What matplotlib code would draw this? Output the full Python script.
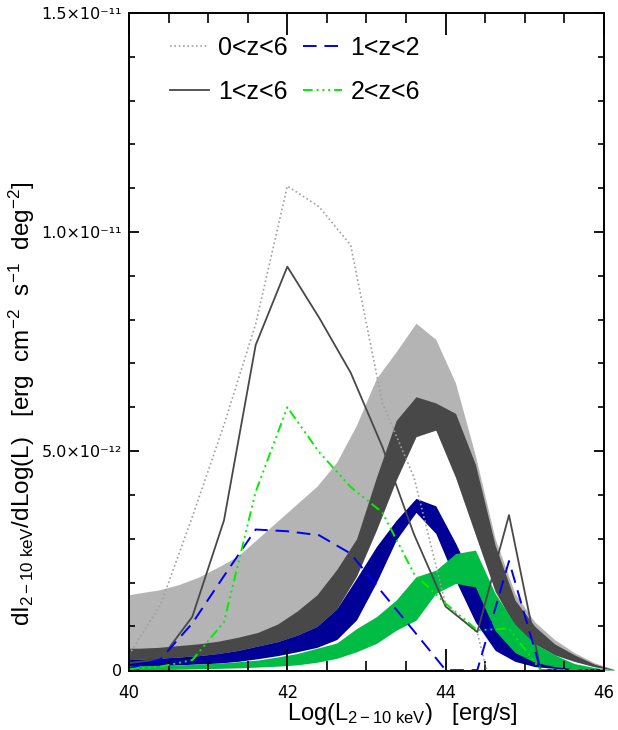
import numpy as np
import matplotlib
matplotlib.use("Agg")
import matplotlib.pyplot as plt
from matplotlib.ticker import MultipleLocator, FixedLocator

plt.rcParams['font.family'] = ['Liberation Sans', 'DejaVu Sans']
plt.rcParams['mathtext.fontset'] = 'custom'
plt.rcParams['mathtext.rm'] = 'Liberation Sans'
plt.rcParams['mathtext.it'] = 'Liberation Sans:italic'
plt.rcParams['mathtext.bf'] = 'Liberation Sans:bold'

# --- line curves (units of 1e-12), sampled every 0.4 dex
lum = [40.0, 40.4, 40.8, 41.2, 41.6, 42.0, 42.4, 42.8, 43.2, 43.6,
       44.0, 44.4, 44.8, 45.2, 45.6, 46.0]
z0_6 = [0.35, 1.5, 3.5, 5.6, 7.9, 11.05, 10.58, 9.70, 6.1, 4.4,
        1.5, 0.85, -2.0, -1.0, 0.0, 0.0]
z1_6 = [0.16, 0.25, 1.22, 3.42, 7.42, 9.21, 8.05, 6.79, 5.10, 3.1,
        1.45, 0.87, 3.54, 0.0, 0.0, 0.0]
z1_2 = [0.04, 0.25, 1.07, 2.15, 3.21, 3.17, 3.08, 2.66, 1.77, 0.89,
        0.0, 0.0, 2.49, 0.0, 0.0, 0.0]
z2_6 = [0.02, 0.08, 0.23, 1.1, 4.07, 6.0, 4.98, 4.18, 3.6, 2.2,
        1.52, 0.91, 0.95, 0.0, 0.0, 0.0]

# --- model bands (units of 1e-12)
blum = [40.0, 40.125, 40.375, 40.625, 40.875, 41.125, 41.375, 41.625, 41.875,
        42.125, 42.375, 42.625, 42.875, 43.125, 43.375, 43.625, 43.875,
        44.125, 44.375, 44.625, 44.875, 45.125, 45.375, 45.625, 45.875, 46.125]
all_hi = [1.72, 1.76, 1.83, 1.95, 2.12, 2.35, 2.6, 3.0, 3.4, 3.8, 4.2, 4.75,
          5.6, 6.66, 7.27, 7.92, 7.55, 6.55, 4.9, 3.0, 1.75, 1.1, 0.7, 0.4,
          0.17, 0.02]
mid_hi = [0.5, 0.5, 0.52, 0.56, 0.6, 0.66, 0.75, 0.86, 1.05, 1.35, 1.72, 2.3,
          3.0, 4.4, 5.7, 6.24, 6.1, 5.86, 4.7, 2.85, 1.6, 1.0, 0.6, 0.35,
          0.14, 0.01]
mid_lo = [0.24, 0.25, 0.27, 0.3, 0.33, 0.38, 0.45, 0.55, 0.65, 0.8, 1.0, 1.4,
          2.15, 3.2, 4.34, 5.33, 5.48, 4.4, 3.1, 1.8, 1.0, 0.6, 0.35, 0.2,
          0.08, 0.0]
lo_hi = [0.24, 0.25, 0.27, 0.3, 0.33, 0.38, 0.45, 0.55, 0.65, 0.8, 1.0, 1.4,
         2.1, 2.82, 3.42, 3.92, 3.75, 2.9, 1.95, 0.95, 0.45, 0.25, 0.12, 0.06,
         0.02, 0.0]
lo_lo = [0.08, 0.09, 0.1, 0.12, 0.14, 0.16, 0.2, 0.26, 0.33, 0.42, 0.52, 0.7,
         1.15, 2.0, 2.97, 3.6, 3.12, 2.05, 1.1, 0.45, 0.2, 0.08, 0.04, 0.02,
         0.01, 0.0]
hz_hi = [0.1, 0.1, 0.11, 0.12, 0.14, 0.16, 0.19, 0.23, 0.3, 0.38, 0.5, 0.62,
         0.95, 1.22, 1.6, 2.13, 2.28, 2.66, 2.74, 1.75, 1.05, 0.6, 0.35, 0.15,
         0.06, 0.0]
hz_lo = [0.0, 0.0, 0.01, 0.02, 0.03, 0.04, 0.05, 0.07, 0.09, 0.12, 0.18, 0.27,
         0.42, 0.61, 0.91, 1.14, 1.75, 1.98, 1.9, 0.9, 0.4, 0.18, 0.08, 0.03,
         0.01, 0.0]

xticks = [40, 42, 44, 46]
xtick_labels = ['40', '42', '44', '46']
yticks = [0, 5e-12, 1e-11, 1.5e-11]
ytick_labels = ['0', '5.0×10⁻¹²', '1.0×10⁻¹¹', '1.5×10⁻¹¹']

s = 1e-12
fig = plt.figure(figsize=(6.18, 7.30), dpi=100)
ax = fig.add_axes([129/618, 59/730, 475/618, 658/730])

bx = np.array(blum)
ax.fill_between(bx, np.array(mid_lo)*s, np.array(all_hi)*s, color='#b4b4b4', lw=0, clip_on=False)
ax.fill_between(bx, np.array(mid_lo)*s, np.array(mid_hi)*s, color='#484848', lw=0, clip_on=False)
ax.fill_between(bx, np.array(lo_lo)*s, np.array(lo_hi)*s, color='#000096', lw=0, clip_on=False)
ax.fill_between(bx, np.array(hz_lo)*s, np.array(hz_hi)*s, color='#00bb44', lw=0, clip_on=False)

lx = np.array(lum)
h1, = ax.plot(lx, np.array(z0_6)*s, color='#a0a0a0', lw=1.2, ls=(0, (1, 1.6)), label='0<z<6')
h2, = ax.plot(lx, np.array(z1_6)*s, color='#484848', lw=1.3, label='1<z<6')
h3, = ax.plot(lx, np.array(z1_2)*s, color='#0000ee', lw=1.4, ls=(0, (7, 4)), label='1<z<2')
h4, = ax.plot(lx, np.array(z2_6)*s, color='#00ee00', lw=1.4,
              ls=(0, (5, 2, 1, 2, 1, 2, 1, 2)), label='2<z<6')

ax.set_xlim(40, 46)
ax.set_ylim(-0.02e-12, 15e-12)

ax.xaxis.set_major_locator(FixedLocator(xticks))
ax.xaxis.set_minor_locator(MultipleLocator(0.5))
ax.yaxis.set_major_locator(FixedLocator(yticks))
ax.yaxis.set_minor_locator(MultipleLocator(1e-12))
ax.set_xticklabels(xtick_labels, fontfamily='DejaVu Sans', fontsize=12)
ax.set_yticklabels(ytick_labels, fontfamily='DejaVu Sans', fontsize=11.5)

ax.tick_params(axis='x', which='major', direction='in', length=16, width=1.3,
               top=True, pad=9)
ax.tick_params(axis='x', which='minor', direction='in', length=7.5, width=1.2, top=True)
ax.tick_params(axis='y', which='major', direction='in', length=7.5, width=1.3,
               right=True, pad=5)
ax.tick_params(axis='y', which='minor', direction='in', length=4, width=1.2, right=True)
for sp in ax.spines.values():
    sp.set_linewidth(1.4)

fig.text(402/618, 1 - 714/730, r'Log(L$_{\rm 2-10\ keV}$)   [erg/s]',
         ha='center', va='center', fontsize=17)
fig.text(22/618, 1 - 404/730,
         r'dI$_{\rm 2-10\ keV}$/dLog(L)   [erg  cm$^{-2}$  s$^{-1}$  deg$^{-2}$]',
         ha='center', va='center', rotation=90, fontsize=17.5)

ax.legend(handles=[h1, h2, h3, h4], ncol=2, frameon=False, fontsize=18,
          loc='upper left', bbox_to_anchor=(0.066, 0.98), borderaxespad=0,
          handlelength=1.56, handletextpad=0.35, columnspacing=0.6,
          labelspacing=0.78)

fig.savefig('out.png', dpi=100)
